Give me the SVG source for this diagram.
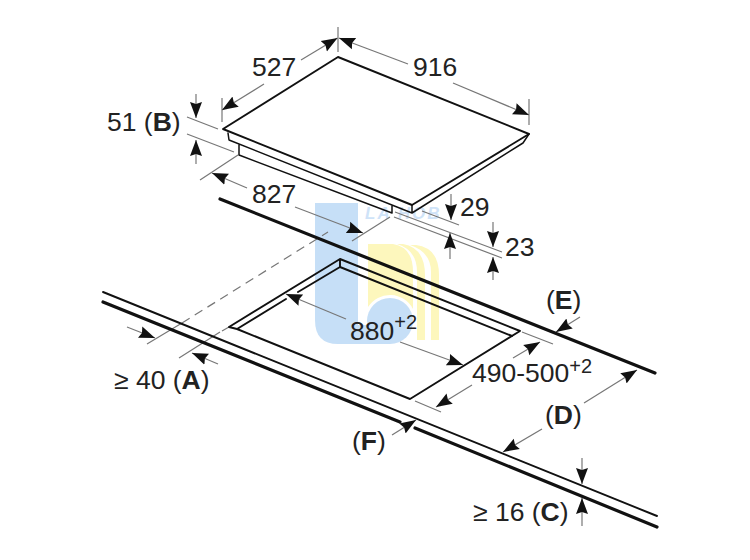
<svg xmlns="http://www.w3.org/2000/svg" width="750" height="560" viewBox="0 0 750 560">
<style>
text{font-family:"Liberation Sans",Arial,sans-serif;font-size:26.5px;fill:#222}
.b{font-weight:bold}
.s{font-size:20px}
.o{fill:none;stroke:#111;stroke-linecap:round;stroke-linejoin:round}
.t1{stroke-width:1.9}
.t2{stroke-width:3.2}
.t3{stroke-width:1.5}
.d{fill:none;stroke:#777;stroke-width:1.2}
.a{fill:none;stroke:#777;stroke-width:1.2;marker-end:url(#ah)}
</style>
<defs>
<marker id="ah" markerUnits="userSpaceOnUse" markerWidth="18" markerHeight="14" refX="16" refY="7" orient="auto"><path d="M0 1L16 7L0 13L2 7Z" fill="#111"/></marker>
</defs>
<rect width="750" height="560" fill="#fff"/>
<g id="watermark">
<path d="M315 203H358V344H338Q315 344 315 320Z" fill="#c6dff7"/>
<path d="M368 244H393Q413 247 413 272V309A26 26 0 0 0 368 307Z" fill="#fdf7bd"/>
<path d="M397 244H403Q425 248 425 275V340H417V272Q417 250 397 244Z" fill="#fdf7bd"/>
<path d="M410 245H416Q439 248 439 275V340H431V272Q431 252 410 245Z" fill="#fdf7bd"/>
<path d="M358 325H390V344H358Z" fill="#c6dff7"/>
<circle cx="390" cy="321" r="23" fill="#c6dff7"/>
<text x="365" y="219" style="font-size:17px;font-style:italic;font-weight:bold;letter-spacing:2px;fill:#cfe3f8">LA HOB</text>
</g>
<g id="connectors">
<path class="d" d="M338 27V52M222 98V122M529 99V125M187 117L218 129M187 134L234 152M200 180L238 155M352 241L390 217M422 211L459 225M395 212L502 252M394 217L502 258"/>
<path class="d" d="M147 344L182 323M179 358L220 332M415 401L441 412M522 332L553 344"/>
<path class="a" d="M301 60L337.5 38"/>
<path class="a" d="M408 64L339 38"/>
<path class="a" d="M453 83L529 115"/>
<path class="a" d="M264 84L222 110"/>
<path class="a" d="M196 94V118"/>
<path class="a" d="M196 164V140"/>
<path class="a" d="M247 188L212 173"/>
<path class="a" d="M295 207L363 233"/>
<path class="a" d="M451 194V220"/>
<path class="a" d="M450 259V233"/>
<path class="a" d="M493 222V247"/>
<path class="a" d="M493 280V257"/>
<path class="a" d="M127 327L155 338"/>
<path class="a" d="M218 364L192 353"/>
<path class="a" d="M346 319L286 294"/>
<path class="a" d="M400 342L463 365"/>
<path class="a" d="M513 358L540 342"/>
<path class="a" d="M472 385L436 407"/>
<path class="a" d="M580 317L556 332"/>
<path class="a" d="M584 403L637 370"/>
<path class="a" d="M542 429L503 452"/>
<path class="a" d="M582 458V484"/>
<path class="a" d="M582 526V498"/>
<path class="a" d="M392 435L416 420"/>
<path fill="none" stroke="#777" stroke-width="1.2" stroke-dasharray="9 6" d="M182 323L328 232M222 331L229 327"/>
</g>
<g id="hob">
<path class="o t1" d="M223 129L338 57L529 134L412 205Z"/>
<path class="o t3" d="M228 133L229 140L412 213M239 144V155L392 213M392 206V213M412 205V213L523 143L529 134"/>
</g>
<g id="counter">
<path class="o t2" d="M220 199L655 373"/>
<path class="o t1" d="M340 259L520 331L410 399L237 329L286 299M298 292L340 267V259L229 327L237 329"/>
<path class="o t1" d="M340 267L512 336"/>
<path class="o t1" d="M103 292L657 516"/>
<path class="o t2" d="M103 302L400 422M415 428L657 527"/>
</g>
<g id="labels">
<text x="252" y="76">527</text>
<text x="413" y="76">916</text>
<text x="107" y="131">51 (<tspan class="b">B</tspan>)</text>
<text x="252" y="203">827</text>
<text x="460" y="216">29</text>
<text x="505" y="256">23</text>
<text x="350" y="340">880<tspan class="s" dy="-11">+2</tspan></text>
<text x="472" y="382">490-500<tspan class="s" dy="-9">+2</tspan></text>
<text x="546" y="309">(<tspan class="b">E</tspan>)</text>
<text x="545" y="424">(<tspan class="b">D</tspan>)</text>
<text x="352" y="450">(<tspan class="b">F</tspan>)</text>
<text x="114" y="389">≥ 40 (<tspan class="b">A</tspan>)</text>
<text x="473" y="521">≥ 16 (<tspan class="b">C</tspan>)</text>
</g>
</svg>
